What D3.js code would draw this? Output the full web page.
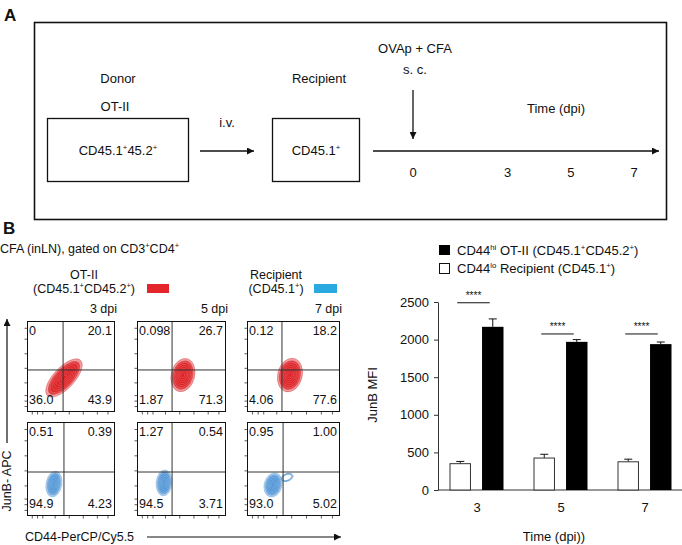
<!DOCTYPE html>
<html><head><meta charset="utf-8">
<script src="https://cdn.jsdelivr.net/npm/d3@7"></script>
<style>body{margin:0;background:#fff}svg{display:block}text{font-family:"Liberation Sans",Arial,Helvetica,sans-serif;fill:#111}</style>
</head><body><svg id="c" width="682" height="545"></svg>
<script>
// ---------------- data ----------------
const timelineDays = [0, 3, 5, 7];
const flowDays = ["3 dpi", "5 dpi", "7 dpi"];
// quadrant labels: [UL, UR, LL, LR]
const otiiQuadrants = [["0","20.1","36.0","43.9"],["0.098","26.7","1.87","71.3"],["0.12","18.2","4.06","77.6"]];
const recipQuadrants = [["0.51","0.39","94.9","4.23"],["1.27","0.54","94.5","3.71"],["0.95","1.00","93.0","5.02"]];
// gates (axis units 0-5)
const otiiGateX = [2.05, 1.97, 1.88];
const recipGateX = [2.10, 1.97, 1.94];
const otiiGateY = [2.31, 2.31, 2.31];
const recipGateY = [2.34, 2.34, 2.34];
// contour blobs: [cx, cy, rx, ry, angle]
const otiiBlobs = [[[2.10,1.87,1.38,0.6,-47]], [[2.58,2.03,0.66,0.95,14]], [[2.31,2.03,0.66,0.92,14]]];
const recipBlobs = [[[1.53,1.70,0.45,0.74,10]], [[1.52,1.76,0.45,0.73,5]], [[1.40,1.65,0.48,0.66,15],[2.15,2.05,0.34,0.2,-20]]];
const flowTicks = [0.3, 0.6, 0.9, 1.6, 2.4, 3.2, 4.0, 4.6];
const contourLevels = [1, 0.88, 0.76, 0.64, 0.52, 0.4, 0.28, 0.16];
// bar chart
const timeCats = ["3", "5", "7"];
const seriesKeys = ["lo", "hi"];
const loMean = [350, 425, 375];
const loErr = [30, 50, 35];
const hiMean = [2170, 1970, 1940];
const hiErr = [105, 30, 28];
const yTicks = [0, 500, 1000, 1500, 2000, 2500];
const sigLevel = [2490, 2075, 2075];
const sigText = ["****", "****", "****"];

// ---------------- helpers ----------------
const svg = d3.select("#c");
svg.append("rect").attr("width", 682).attr("height", 545).attr("fill", "#fff");
const defs = svg.append("defs");
defs.append("marker").attr("id", "ah").attr("viewBox", "0 0 10 10").attr("refX", 10).attr("refY", 5)
  .attr("markerUnits", "userSpaceOnUse").attr("markerWidth", 8).attr("markerHeight", 7).attr("orient", "auto")
  .append("path").attr("d", "M0,0 L10,5 L0,10 z").attr("fill", "#111");

function rich(t, str, size) {
  const re = /\{([^}]*)\}|([^{]+)/g; let m; let up = false;
  while ((m = re.exec(str))) {
    if (m[1] !== undefined) {
      t.append("tspan").attr("dy", up ? 0 : -size * 0.38).attr("font-size", size * 0.6).text(m[1]); up = true;
    } else {
      t.append("tspan").attr("dy", up ? size * 0.38 : 0).attr("font-size", size).text(m[2]); up = false;
    }
  }
  return t;
}
function label(g, x, y, str, size, anchor) {
  const t = g.append("text").attr("x", x).attr("y", y).attr("font-size", size).attr("text-anchor", anchor || "start");
  return rich(t, str, size);
}
function arrow(g, x1, y1, x2, y2, w) {
  g.append("line").attr("x1", x1).attr("y1", y1).attr("x2", x2).attr("y2", y2)
    .attr("stroke", "#111").attr("stroke-width", w || 1.3).attr("marker-end", "url(#ah)");
}

// ---------------- Panel A ----------------
const gA = svg.append("g");
gA.append("text").attr("x", 4).attr("y", 21).attr("font-size", 17).attr("font-weight", "bold").text("A");
gA.append("rect").attr("x", 34.5).attr("y", 22.5).attr("width", 632).attr("height", 197)
  .attr("fill", "none").attr("stroke", "#111").attr("stroke-width", 1.6);
const fa = 13;
label(gA, 118, 83, "Donor", fa, "middle");
label(gA, 115, 111, "OT-II", fa, "middle");
gA.append("rect").attr("x", 47.5).attr("y", 118.5).attr("width", 141).attr("height", 63).attr("fill", "none").attr("stroke", "#111").attr("stroke-width", 1.3);
label(gA, 118, 155, "CD45.1{+}45.2{+}", fa, "middle");
label(gA, 227, 127, "i.v.", fa, "middle");
arrow(gA, 200, 151, 254, 151);
label(gA, 319, 83, "Recipient", fa, "middle");
gA.append("rect").attr("x", 272.5).attr("y", 118.5).attr("width", 87).attr("height", 63).attr("fill", "none").attr("stroke", "#111").attr("stroke-width", 1.3);
label(gA, 316, 155, "CD45.1{+}", fa, "middle");
const tx = d3.scaleLinear().domain([0, 7]).range([413, 634]);
arrow(gA, 373, 151, 659, 151);
arrow(gA, tx(0), 90, tx(0), 139);
label(gA, tx(0) + 2, 53, "OVAp + CFA", fa, "middle");
label(gA, tx(0) + 2, 74, "s. c.", fa, "middle");
label(gA, 556, 113, "Time (dpi)", fa, "middle");
gA.selectAll("text.day").data(timelineDays).join("text").attr("class", "day")
  .attr("x", d => tx(d)).attr("y", 177).attr("font-size", fa).attr("text-anchor", "middle").text(d => d);

// ---------------- Panel B flow ----------------
const gB = svg.append("g");
gB.append("text").attr("x", 3).attr("y", 234).attr("font-size", 17).attr("font-weight", "bold").text("B");
const fb = 12.5;
label(gB, 0, 253, "CFA (inLN), gated on CD3{+}CD4{+}", fb, "start");
label(gB, 84, 279, "OT-II", fb, "middle");
label(gB, 84, 293, "(CD45.1{+}CD45.2{+})", fb, "middle");
gB.append("rect").attr("x", 147).attr("y", 284).attr("width", 22).attr("height", 9).attr("fill", "#e3262b");
label(gB, 276, 279, "Recipient", fb, "middle");
label(gB, 276, 293, "(CD45.1{+})", fb, "middle");
gB.append("rect").attr("x", 314).attr("y", 284).attr("width", 23).attr("height", 9).attr("fill", "#2aa8e0");

const colLeft = [27, 137, 247], colW = [88, 89, 93];
const rowTop = [321, 422], rowH = [91, 94];
const rows = [
  { quads: otiiQuadrants, gx: otiiGateX, gy: otiiGateY, blobs: otiiBlobs, fill: "#dc2226", stroke: "#c81a1e" },
  { quads: recipQuadrants, gx: recipGateX, gy: recipGateY, blobs: recipBlobs, fill: "#4f94d6", stroke: "#3f86cc" }
];
flowDays.forEach((d, i) => {
  gB.append("text").attr("x", colLeft[i] + colW[i] + 2).attr("y", 313).attr("font-size", fb).attr("text-anchor", "end").text(d);
});
rows.forEach((r, ri) => {
  flowDays.forEach((d, ci) => {
    const L = colLeft[ci], W = colW[ci], T = rowTop[ri], H = rowH[ri];
    const x = d3.scaleLinear().domain([0, 5]).range([L, L + W]);
    const y = d3.scaleLinear().domain([0, 5]).range([T + H, T]);
    const g = gB.append("g");
    // contours
    const cg = g.append("g");
    r.blobs[ci].forEach((b, bi) => {
      contourLevels.forEach((k, li) => {
        if (bi > 0 && li > 2) return;
        const e = cg.append("ellipse")
          .attr("cx", 0).attr("cy", 0)
          .attr("rx", (x(b[2]) - x(0)) * k).attr("ry", (x(b[3]) - x(0)) * k)
          .attr("transform", `translate(${x(b[0])},${y(b[1])}) rotate(${b[4]})`);
        if (bi > 0) {
          e.attr("fill", "none").attr("stroke", r.stroke).attr("stroke-opacity", 0.7).attr("stroke-width", 0.7);
        } else {
          e.attr("fill", r.fill).attr("fill-opacity", li === 0 ? 0.45 : 0.75)
            .attr("stroke", li === 0 ? r.stroke : "#fff").attr("stroke-opacity", li === 0 ? 0.6 : 0.3)
            .attr("stroke-width", 0.5);
        }
      });
    });
    // ticks
    g.selectAll("line.ty").data(flowTicks).join("line").attr("class", "ty")
      .attr("x1", L - 2.5).attr("x2", L).attr("y1", v => y(v)).attr("y2", v => y(v)).attr("stroke", "#333").attr("stroke-width", 0.8);
    g.selectAll("line.tx").data(flowTicks).join("line").attr("class", "tx")
      .attr("y1", T + H).attr("y2", T + H + 2.5).attr("x1", v => x(v)).attr("x2", v => x(v)).attr("stroke", "#333").attr("stroke-width", 0.8);
    // gates
    g.append("line").attr("x1", x(r.gx[ci])).attr("x2", x(r.gx[ci])).attr("y1", T).attr("y2", T + H).attr("stroke", "#333").attr("stroke-width", 1);
    g.append("line").attr("x1", L).attr("x2", L + W).attr("y1", y(r.gy[ci])).attr("y2", y(r.gy[ci])).attr("stroke", "#333").attr("stroke-width", 1);
    g.append("rect").attr("x", L + 0.5).attr("y", T + 0.5).attr("width", W - 1).attr("height", H - 1).attr("fill", "none").attr("stroke", "#111").attr("stroke-width", 1);
    const q = r.quads[ci];
    g.append("text").attr("x", L + 2).attr("y", T + 14).attr("font-size", fb).text(q[0]);
    g.append("text").attr("x", L + W - 3).attr("y", T + 14).attr("font-size", fb).attr("text-anchor", "end").text(q[1]);
    g.append("text").attr("x", L + 2).attr("y", T + H - 8).attr("font-size", fb).text(q[2]);
    g.append("text").attr("x", L + W - 3).attr("y", T + H - 8).attr("font-size", fb).attr("text-anchor", "end").text(q[3]);
  });
});
// axis titles
arrow(gB, 7, 443, 7, 319, 1.2);
gB.append("text").attr("transform", "translate(11,481) rotate(-90)").attr("font-size", fb).attr("text-anchor", "middle").text("JunB- APC");
gB.append("text").attr("x", 25).attr("y", 541).attr("font-size", fb).text("CD44-PerCP/Cy5.5");
arrow(gB, 147, 537, 341, 537, 1.2);

// ---------------- Panel B bar chart ----------------
const gC = svg.append("g");
const fc = 13;
const yB = d3.scaleLinear().domain([0, 2500]).range([490, 302]);
const xB = d3.scalePoint().domain(timeCats).range([476.5, 644.5]);
const xS = d3.scaleBand().domain(seriesKeys).range([-27, 27]).paddingInner(0.34);
// legend
gC.append("rect").attr("x", 439).attr("y", 245).attr("width", 11).attr("height", 10).attr("fill", "#000");
gC.append("rect").attr("x", 439.5).attr("y", 263.5).attr("width", 10).attr("height", 10).attr("fill", "#fff").attr("stroke", "#111").attr("stroke-width", 1);
label(gC, 457, 255, "CD44{hi} OT-II (CD45.1{+}CD45.2{+})", fc, "start");
label(gC, 457, 273, "CD44{lo} Recipient (CD45.1{+})", fc, "start");
// axes
const ya = gC.append("g").attr("transform", "translate(438,0)")
  .call(d3.axisLeft(yB).tickValues(yTicks).tickFormat(d3.format("d")).tickSize(4).tickSizeOuter(0).tickPadding(5));
ya.selectAll("text").attr("font-size", fc).attr("font-family", null);
ya.selectAll("line,path").attr("stroke", "#333");
gC.append("line").attr("x1", 438).attr("x2", 682).attr("y1", yB(0)).attr("y2", yB(0)).attr("stroke", "#333");
const xa = gC.append("g").attr("transform", `translate(0,${yB(0)})`).call(d3.axisBottom(xB).tickSize(0).tickPadding(13));
xa.select(".domain").remove();
xa.selectAll("text").attr("font-size", fc).attr("font-family", null);
gC.append("text").attr("transform", "translate(377,395) rotate(-90)").attr("font-size", fc).attr("text-anchor", "middle").text("JunB MFI");
gC.append("text").attr("x", 554).attr("y", 541).attr("font-size", fc).attr("text-anchor", "middle").text("Time (dpi))");
// bars
const barData = [];
timeCats.forEach((c, i) => {
  barData.push({ c, k: "lo", v: loMean[i], e: loErr[i] });
  barData.push({ c, k: "hi", v: hiMean[i], e: hiErr[i] });
});
const bw = xS.bandwidth();
gC.selectAll("line.err").data(barData).join("line").attr("class", "err")
  .attr("x1", d => xB(d.c) + xS(d.k) + bw / 2).attr("x2", d => xB(d.c) + xS(d.k) + bw / 2)
  .attr("y1", d => yB(d.v)).attr("y2", d => yB(d.v + d.e)).attr("stroke", "#111").attr("stroke-width", 1);
gC.selectAll("line.cap").data(barData).join("line").attr("class", "cap")
  .attr("x1", d => xB(d.c) + xS(d.k) + bw / 2 - 4).attr("x2", d => xB(d.c) + xS(d.k) + bw / 2 + 4)
  .attr("y1", d => yB(d.v + d.e)).attr("y2", d => yB(d.v + d.e)).attr("stroke", "#111").attr("stroke-width", 1);
gC.selectAll("rect.bar").data(barData).join("rect").attr("class", "bar")
  .attr("x", d => xB(d.c) + xS(d.k) + (d.k === "lo" ? 0.5 : 0)).attr("width", d => d.k === "lo" ? bw - 1 : bw)
  .attr("y", d => yB(d.v)).attr("height", d => yB(0) - yB(d.v))
  .attr("fill", d => d.k === "lo" ? "#fff" : "#000").attr("stroke", d => d.k === "lo" ? "#333" : "none").attr("stroke-width", 1);
// significance
timeCats.forEach((c, i) => {
  const x1 = xB(c) + xS("lo") + bw / 2 - 3, x2 = xB(c) + xS("hi") + bw / 2 - 3;
  gC.append("line").attr("x1", x1).attr("x2", x2).attr("y1", yB(sigLevel[i])).attr("y2", yB(sigLevel[i])).attr("stroke", "#111").attr("stroke-width", 1);
  gC.append("text").attr("x", (x1 + x2) / 2).attr("y", yB(sigLevel[i]) - 4).attr("font-size", 10).attr("text-anchor", "middle").text(sigText[i]);
});
</script></body></html>
